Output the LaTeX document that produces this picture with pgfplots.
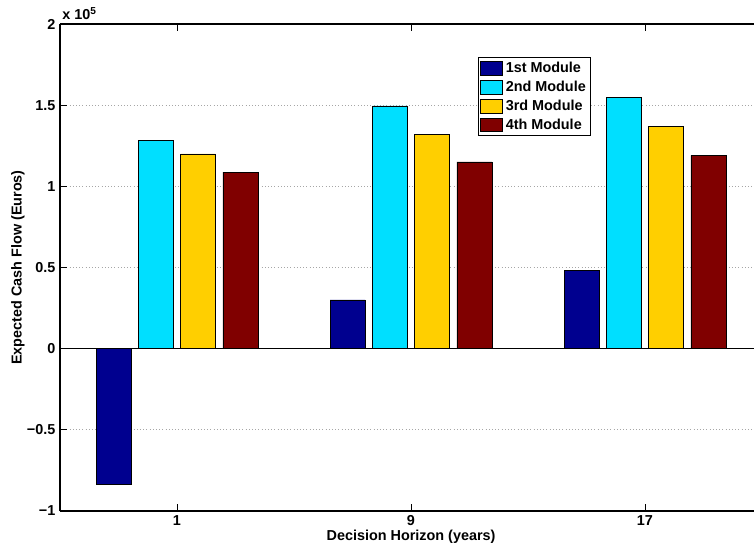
\documentclass[border=0pt]{standalone}
\usepackage{pgfplots}
\pgfplotsset{compat=1.18}
\usepackage{fontspec}
\setmainfont{Liberation Sans}
\definecolor{c1}{RGB}{0,0,143}
\definecolor{c2}{RGB}{0,223,255}
\definecolor{c3}{RGB}{255,207,0}
\definecolor{c4}{RGB}{128,0,0}
\newcommand{\lf}{\fontsize{10.8}{12.5}\selectfont\bfseries}
\begin{document}
\begin{tikzpicture}
\begin{axis}[
  scale only axis,
  width=520.5pt, height=365.25pt,
  xmin=0.5, xmax=3.466,
  ymin=-1, ymax=2,
  axis x line*=box, axis y line*=left,
  axis line style={black, line width=0.8pt},
  xtick={1,2,3}, xticklabels={1,9,17},
  ytick={-1,-0.5,0,0.5,1,1.5,2},
  yticklabels={−1,−0.5,0,0.5,1,1.5,2},
  tick style={black, line width=0.5pt},
  major tick length=5pt,
  tick align=inside,
  ymajorgrids,
  grid style={dotted, gray!70, line width=0.5pt},
  tick label style={font=\lf},
  xlabel={Decision Horizon (years)},
  ylabel={Expected Cash Flow (Euros)},
  label style={font=\lf},
  xlabel style={at={(axis description cs:0.5058,0)}, anchor=center, yshift=-19.5pt},
  ylabel style={at={(axis description cs:0,0.5)}, anchor=center, rotate=0, yshift=31.5pt},
  legend style={at={(axis cs:2.286,1.797)}, anchor=north west, draw=black, line width=0.6pt,
    font=\lf, inner sep=1.6pt, row sep=0.8pt,
    /tikz/every even column/.append style={column sep=2pt}},
  legend cell align=left,
  legend image code/.code={\draw[#1, line width=0.5pt] (0pt,-5.2pt) rectangle (16.5pt,5.2pt);},
]
\addplot[black, forget plot, line width=0.8pt] coordinates {(0.5,0) (3.5,0)};
\addplot[ybar, bar width=26.25pt, bar shift=-47.6pt, fill=c1, draw=black, line width=0.4pt]
  coordinates {(1,-0.835) (2,0.30) (3,0.48)};
\addplot[ybar, bar width=26.25pt, bar shift=-15.9pt, fill=c2, draw=black, line width=0.4pt]
  coordinates {(1,1.285) (2,1.495) (3,1.548)};
\addplot[ybar, bar width=26.25pt, bar shift=15.9pt, fill=c3, draw=black, line width=0.4pt]
  coordinates {(1,1.20) (2,1.318) (3,1.37)};
\addplot[ybar, bar width=26.25pt, bar shift=47.6pt, fill=c4, draw=black, line width=0.4pt]
  coordinates {(1,1.087) (2,1.15) (3,1.19)};
\legend{1st Module, 2nd Module, 3rd Module, 4th Module}
\end{axis}
\node[anchor=south west, font=\lf, inner sep=0pt, xshift=1.5pt, yshift=3pt] at (current axis.north west) {x 10\textsuperscript{5}};
\pgfresetboundingbox
\path[use as bounding box] ([shift={(-45pt,-29.25pt)}]current axis.south west) rectangle ([shift={(0pt,18pt)}]current axis.north east);
\end{tikzpicture}
\end{document}
